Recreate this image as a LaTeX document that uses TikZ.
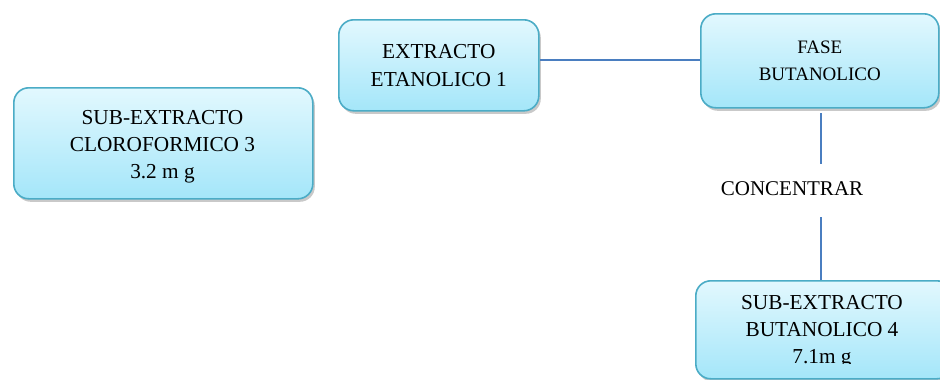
\documentclass[tikz,border=0pt]{standalone}
\usepackage{fontspec}
\setmainfont{Liberation Serif}
\usetikzlibrary{shadows,calc}
\definecolor{boxtop}{RGB}{226,248,254}
\definecolor{boxbot}{RGB}{164,230,249}
\definecolor{boxline}{RGB}{75,172,198}
\definecolor{conline}{RGB}{74,126,192}
\tikzset{
  boxnode/.style={draw=boxline, line width=1.6bp, rounded corners=15bp,
    top color=boxtop, bottom color=boxbot, align=center, inner sep=0pt,
    drop shadow={shadow xshift=2bp, shadow yshift=-3bp, opacity=0.35, fill=black!60}},
  boxtext/.style={align=center, inner sep=0pt, font=\fontsize{21.3bp}{27bp}\selectfont},
  conn/.style={draw=conline, line width=1.5bp}
}
\begin{document}
\begin{tikzpicture}[x=1bp,y=-1bp]
\clip (0,0) rectangle (940,379);
\fill[white] (0,0) rectangle (940,379);
% boxes
\node[boxnode, minimum width=299bp, minimum height=111bp, anchor=north west] (a) at (13,87) {};
\node[boxtext] (at) at (162.5,146.5) {SUB-EXTRACTO\\CLOROFORMICO 3\\3.2 m g};
\node[boxnode, minimum width=200bp, minimum height=91bp, anchor=north west,
  font=\fontsize{21.3bp}{28bp}\selectfont] (b) at (338,19)
  {EXTRACTO\\ETANOLICO 1};
\node[boxnode, minimum width=238bp, minimum height=94bp, anchor=north west,
  font=\fontsize{19bp}{27bp}\selectfont] (c) at (700,13)
  {FASE\\BUTANOLICO};
\node[boxnode, minimum width=256bp, minimum height=98bp, anchor=north west] (d) at (695,280) {};
\begin{scope}
  \clip (695,280) rectangle (960,363.5);
  \node[boxtext] (dt) at (822,332) {SUB-EXTRACTO\\BUTANOLICO 4\\7.1m g};
\end{scope}
% label
\node[inner sep=0pt, font=\fontsize{21bp}{24bp}\selectfont] (conc) at (792,189) {CONCENTRAR};
% connectors
\coordinate (v1) at (821,113);
\coordinate (v2) at (821,164);
\coordinate (v3) at (821,217);
\draw[conn] (b.east |- 0,60) -- (c.west |- 0,60);
\draw[conn] (v1) -- (v2);
\draw[conn] (v3) -- (v3 |- d.north);
\end{tikzpicture}
\end{document}
